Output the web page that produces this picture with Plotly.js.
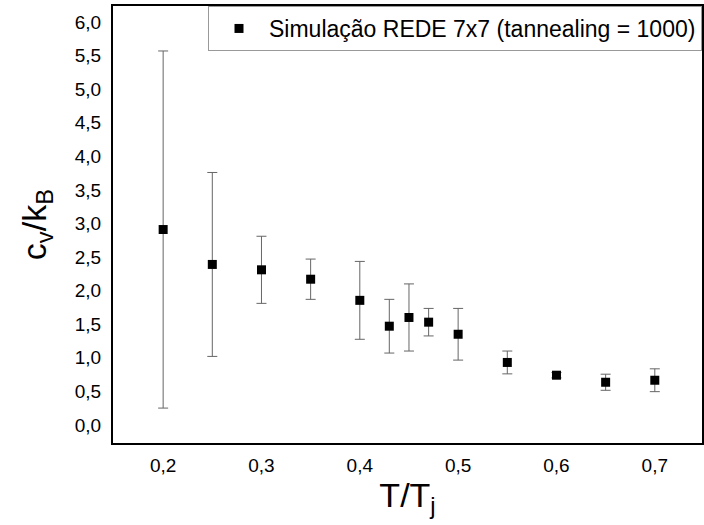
<!DOCTYPE html>
<html>
<head>
<meta charset="utf-8">
<script src="https://cdn.plot.ly/plotly-3.0.1.min.js"></script>
<style>html,body{margin:0;padding:0;background:#fff;}#chart{width:704px;height:525px;}</style>
</head>
<body>
<div id="chart"></div>
<script>
var temps = [0.2, 0.25, 0.3, 0.35, 0.4, 0.43, 0.45, 0.47, 0.5, 0.55, 0.6, 0.65, 0.7];
var cv = [2.91, 2.39, 2.31, 2.17, 1.855, 1.47, 1.60, 1.53, 1.35, 0.93, 0.74, 0.635, 0.665];
var cvErr = [2.66, 1.37, 0.50, 0.30, 0.58, 0.40, 0.50, 0.205, 0.385, 0.17, 0.04, 0.12, 0.17];
var seriesName = 'Simulação REDE 7x7 (tannealing = 1000)';
var xTicks = [0.2, 0.3, 0.4, 0.5, 0.6, 0.7];
var yTicks = [0, 0.5, 1, 1.5, 2, 2.5, 3, 3.5, 4, 4.5, 5, 5.5, 6];

var trace = {
  x: temps, y: cv, type: 'scatter', mode: 'markers', name: seriesName,
  marker: {symbol: 'square', size: 9, color: '#000'},
  error_y: {type: 'data', array: cvErr, visible: true, color: '#666', thickness: 1, width: 5}
};
var font = '"Liberation Sans", Arial, sans-serif';
var tickFont = {family: font, size: 19, color: '#000'};
var layout = {
  width: 704, height: 525,
  margin: {l: 113, r: 2, t: 6, b: 82},
  paper_bgcolor: '#fff', plot_bgcolor: '#fff',
  separators: ',.',
  font: {family: font, color: '#000', size: 19},
  showlegend: true,
  legend: {x: 1, y: 1, xanchor: 'right', yanchor: 'top', bgcolor: '#fff',
           bordercolor: '#999', borderwidth: 1, itemwidth: 50, font: {size: 23, family: font}},
  xaxis: {range: [0.149, 0.748], tickmode: 'array', tickvals: xTicks, tickformat: '.1f', showgrid: false, zeroline: false,
          showline: true, linecolor: '#000', linewidth: 2, mirror: true, ticks: '', ticklabelstandoff: 4,
          tickfont: tickFont, title: {text: 'T/T<sub>j</sub>', font: {size: 34}, standoff: 8}},
  yaxis: {range: [-0.27, 6.24], tickmode: 'array', tickvals: yTicks, tickformat: '.1f', showgrid: false, zeroline: false,
          showline: true, linecolor: '#000', linewidth: 2, mirror: true, ticks: '', ticklabelstandoff: 6,
          tickfont: tickFont, title: {text: 'c<sub>v</sub>/k<sub>B</sub>', font: {size: 34}, standoff: 18}}
};
Plotly.newPlot('chart', [trace], layout, {displayModeBar: false, staticPlot: true});
</script>
</body>
</html>
